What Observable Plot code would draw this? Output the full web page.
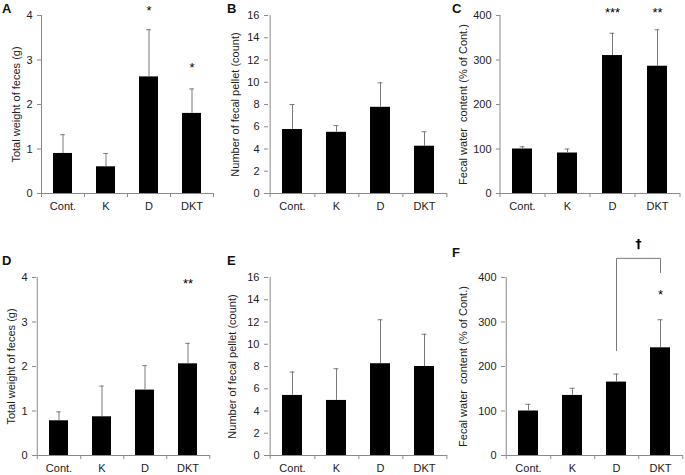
<!DOCTYPE html>
<html><head><meta charset="utf-8">
<script src="https://cdn.jsdelivr.net/npm/d3@7"></script>
<script src="https://cdn.jsdelivr.net/npm/@observablehq/plot@0.6"></script>
<style>
body{margin:0;background:#fff;}
#root{position:relative;width:685px;height:475px;overflow:hidden;background:#fff;font-family:"Liberation Sans",Arial,sans-serif;}
.panel{position:absolute;}
.letter{position:absolute;font-weight:bold;font-size:13px;line-height:13px;color:#111;}
</style></head><body><div id="root"></div>
<script>
const categories = ["Cont.", "K", "D", "DKT"];

// Panel A: Total weight of feces (g)
const aMean = [0.90, 0.60, 2.62, 1.80];
const aSD = [0.42, 0.30, 1.06, 0.55];
const aStars = ["", "", "*", "*"];
const aStarY = [0, 0, 4.1, 2.83];
// Panel B: Number of fecal pellet (count)
const bMean = [5.75, 5.5, 7.75, 4.25];
const bSD = [2.25, 0.6, 2.2, 1.3];
// Panel C: Fecal water content (% of Cont.)
const cMean = [100, 91, 310, 286];
const cSD = [5, 9, 50, 82];
const cStars = ["", "", "***", "**"];
const cStarY = [0, 0, 405, 405];
// Panel D
const dMean = [0.78, 0.87, 1.47, 2.06];
const dSD = [0.2, 0.69, 0.55, 0.46];
const dStars = ["", "", "", "**"];
const dStarY = [0, 0, 0, 3.85];
// Panel E
const eMean = [5.4, 4.95, 8.25, 8.0];
const eSD = [2.1, 2.85, 3.95, 2.9];
// Panel F
const fMean = [100, 135, 165, 242];
const fSD = [15, 16, 18, 63];
const fStars = ["", "", "", "*"];
const fStarY = [0, 0, 0, 360];
const fBracketX = ["D", "D", "DKT", "DKT"];
const fBracketY = [236, 443, 443, 411];
const fDaggerY = 474;

const weightTicks = [0, 1, 2, 3, 4];
const countTicks = [0, 2, 4, 6, 8, 10, 12, 14, 16];
const waterTicks = [0, 100, 200, 300, 400];
const weightLabel = "Total weight of feces (g)";
const countLabel = "Number of fecal pellet (count)";
const waterLabel = "Fecal water\u00a0 content (% of Cont.)";

const AX = "#8a8a8a";
const ERR = "#7a7a7a";

function panel(o) {
  const step = (o.width - o.ml - o.mr) / categories.length;
  const bw = step * 0.45;
  const cap = 5;
  const data = categories.map((c, i) => ({
    cat: c, mean: o.mean[i], top: o.mean[i] + o.sd[i],
    star: o.stars ? o.stars[i] : "", starY: o.starY ? o.starY[i] : 0
  }));
  const marks = [
    Plot.barY(data, {x: "cat", y: "mean", fill: "#000"}),
    Plot.ruleX(data, {x: "cat", y1: "mean", y2: "top", stroke: ERR, strokeWidth: 1}),
    Plot.tickY(data, {x: "cat", y: "top", stroke: ERR, strokeWidth: 1, insetLeft: (bw - cap) / 2, insetRight: (bw - cap) / 2}),
    Plot.ruleY([0], {stroke: AX}),
    Plot.ruleX([categories[0]], {x: d => d, dx: -step / 2, stroke: AX, insetBottom: -4}),
    Plot.ruleX(categories, {x: d => d, dx: step / 2, y1: 0, y2: 0, insetBottom: -4, stroke: AX}),
    Plot.axisY({ticks: o.ticks, tickFormat: d => String(d), tickSize: 4, tickPadding: 5, stroke: AX, fill: "#222", label: null, fontSize: 11}),
    Plot.axisX({tickSize: 0, tickPadding: 9, fill: "#222", label: null, fontSize: 11}),
    Plot.text([o.label], {frameAnchor: "left", textAnchor: "middle", lineAnchor: "middle", rotate: -90, dx: o.labelDx, text: d => d, fontSize: 11, fill: "#222"}),
    Plot.text(data.filter(d => d.star), {x: "cat", y: "starY", text: "star", fontSize: 13, fill: "#000"})
  ];
  if (o.extra) marks.push(...o.extra);
  const svg = Plot.plot({
    width: o.width, height: o.height,
    marginLeft: o.ml, marginRight: o.mr, marginTop: o.mt, marginBottom: o.mb,
    x: {domain: categories, paddingInner: 0.55, paddingOuter: 0.275, axis: null},
    y: {domain: [0, o.ticks[o.ticks.length - 1]], axis: null},
    style: {fontFamily: "'Liberation Sans', Arial, sans-serif", fontSize: "11px", background: "transparent", overflow: "visible"},
    marks
  });
  const div = document.createElement("div");
  div.className = "panel";
  div.style.left = o.left + "px";
  div.style.top = o.top + "px";
  div.appendChild(svg);
  document.getElementById("root").appendChild(div);
  const l = document.createElement("div");
  l.className = "letter";
  l.textContent = o.letter;
  l.style.left = o.lx + "px";
  l.style.top = o.ly + "px";
  document.getElementById("root").appendChild(l);
}

const bracket = fBracketX.map((x, i) => ({x, y: fBracketY[i]}));

panel({letter: "A", lx: 2, ly: 2, left: 0, top: 0, width: 225, height: 230, ml: 41, mr: 12, mt: 15, mb: 37,
  mean: aMean, sd: aSD, stars: aStars, starY: aStarY, ticks: weightTicks, label: weightLabel, labelDx: -25});
panel({letter: "B", lx: 227, ly: 2, left: 225, top: 0, width: 230, height: 230, ml: 43, mr: 8, mt: 15, mb: 37,
  mean: bMean, sd: bSD, ticks: countTicks, label: countLabel, labelDx: -33});
panel({letter: "C", lx: 452, ly: 2, left: 455, top: 0, width: 230, height: 230, ml: 45, mr: 5, mt: 15, mb: 37,
  mean: cMean, sd: cSD, stars: cStars, starY: cStarY, ticks: waterTicks, label: waterLabel, labelDx: -37});
panel({letter: "D", lx: 2, ly: 254, left: 0, top: 235, width: 225, height: 240, ml: 36, mr: 15, mt: 42, mb: 20,
  mean: dMean, sd: dSD, stars: dStars, starY: dStarY, ticks: weightTicks, label: weightLabel, labelDx: -25});
panel({letter: "E", lx: 227, ly: 254, left: 225, top: 235, width: 230, height: 240, ml: 43, mr: 8, mt: 42, mb: 20,
  mean: eMean, sd: eSD, ticks: countTicks, label: countLabel, labelDx: -36});
panel({letter: "F", lx: 452, ly: 246, left: 455, top: 235, width: 230, height: 240, ml: 50, mr: 2, mt: 42, mb: 20,
  mean: fMean, sd: fSD, stars: fStars, starY: fStarY, ticks: waterTicks, label: waterLabel, labelDx: -42,
  extra: [
    Plot.line(bracket, {x: "x", y: "y", stroke: ERR, strokeWidth: 1}),
    Plot.text(["\u2020"], {x: () => "D", dx: 22, y: () => fDaggerY, text: d => d, fontSize: 12, fill: "#000", fontFamily: "'DejaVu Sans', sans-serif", fontWeight: "bold"})
  ]});
</script></body></html>
